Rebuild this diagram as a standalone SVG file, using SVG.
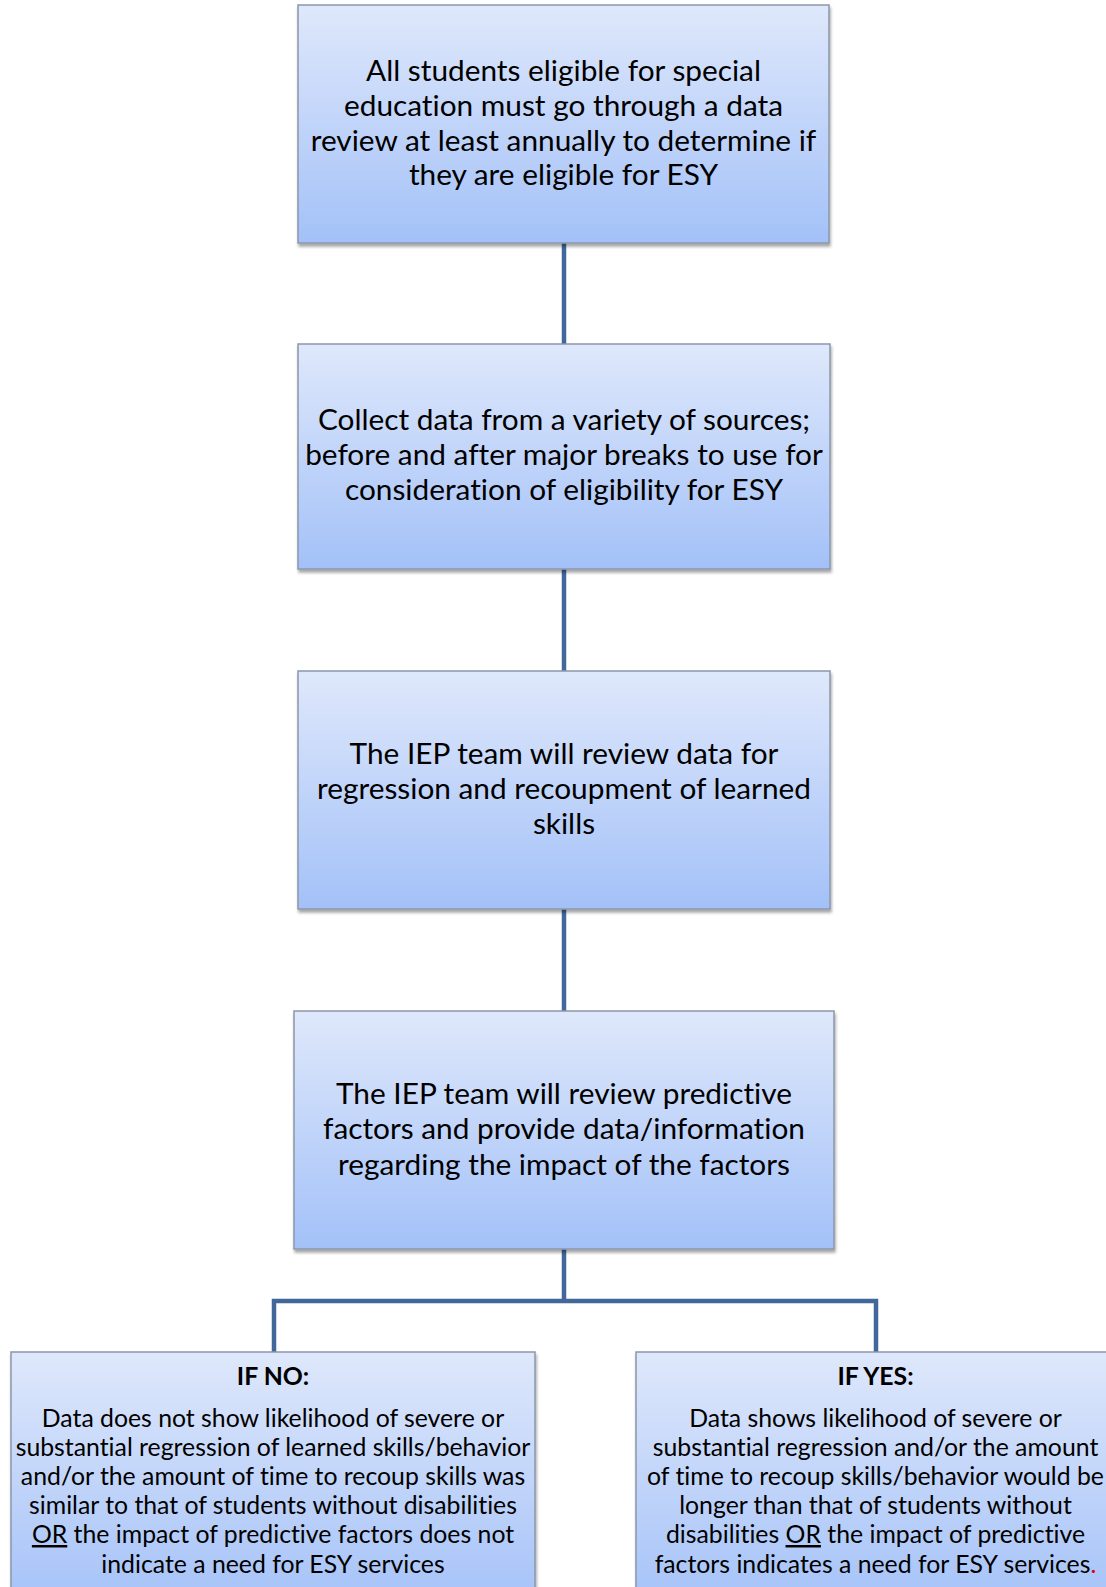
<svg xmlns="http://www.w3.org/2000/svg" width="1106" height="1587" viewBox="0 0 1106 1587">
<defs>
<linearGradient id="g" x1="0" y1="0" x2="0" y2="1">
<stop offset="0" stop-color="#dfe8fb"/>
<stop offset="1" stop-color="#a3c1f8"/>
</linearGradient>
<filter id="sh" x="-5%" y="-5%" width="110%" height="115%">
<feDropShadow dx="1" dy="3" stdDeviation="1.5" flood-color="#000" flood-opacity="0.35"/>
</filter>
</defs>
<style>
.box{fill:url(#g);stroke:#8a97aa;stroke-width:1.5;filter:url(#sh)}
.t{font-family:Lato,"Open Sans",sans-serif;font-size:29.8px;fill:#000;text-anchor:middle;font-variant-ligatures:none}
.s{font-family:Lato,"Open Sans",sans-serif;font-size:24.8px;fill:#000;text-anchor:middle;font-variant-ligatures:none}
.b{font-weight:bold}
.con{fill:none;stroke:#42689b;stroke-width:4.5}
</style>
<g id="connectors">
<line class="con" x1="564" y1="243" x2="564" y2="344"/>
<line class="con" x1="564" y1="569" x2="564" y2="671"/>
<line class="con" x1="564" y1="909" x2="564" y2="1011"/>
<path class="con" d="M564 1249 V1301 M274 1352 V1301 H876 V1352"/>
</g>
<g id="n1">
<rect class="box" x="298" y="5" width="531" height="238"/>
<text class="t" x="563.5" y="81">All students eligible for special</text>
<text class="t" x="563.5" y="116">education must go through a data</text>
<text class="t" x="563.5" y="151">review at least annually to determine if</text>
<text class="t" x="563.5" y="185">they are eligible for ESY</text>
</g>
<g id="n2">
<rect class="box" x="298" y="344" width="532" height="225"/>
<text class="t" x="564" y="430">Collect data from a variety of sources;</text>
<text class="t" x="564" y="465">before and after major breaks to use for</text>
<text class="t" x="564" y="500">consideration of eligibility for ESY</text>
</g>
<g id="n3">
<rect class="box" x="298" y="671" width="532" height="238"/>
<text class="t" x="564" y="764">The IEP team will review data for</text>
<text class="t" x="564" y="799">regression and recoupment of learned</text>
<text class="t" x="564" y="834">skills</text>
</g>
<g id="n4">
<rect class="box" x="294" y="1011" width="540" height="238"/>
<text class="t" x="564" y="1104">The IEP team will review predictive</text>
<text class="t" x="564" y="1139">factors and provide data/information</text>
<text class="t" x="564" y="1175">regarding the impact of the factors</text>
</g>
<g id="n5">
<rect class="box" x="11" y="1352" width="524" height="260"/>
<text class="s b" x="273" y="1385">IF NO:</text>
<text class="s" x="273" y="1427">Data does not show likelihood of severe or</text>
<text class="s" x="273" y="1456">substantial regression of learned skills/behavior</text>
<text class="s" x="273" y="1485">and/or the amount of time to recoup skills was</text>
<text class="s" x="273" y="1514">similar to that of students without disabilities</text>
<text class="s" x="273" y="1543"><tspan text-decoration="underline">OR</tspan> the impact of predictive factors does not</text>
<text class="s" x="273" y="1573">indicate a need for ESY services</text>
</g>
<g id="n6">
<rect class="box" x="636" y="1352" width="480" height="260"/>
<text class="s b" x="875.5" y="1385">IF YES:</text>
<text class="s" x="875.5" y="1427">Data shows likelihood of severe or</text>
<text class="s" x="875.5" y="1456">substantial regression and/or the amount</text>
<text class="s" x="875.5" y="1485">of time to recoup skills/behavior would be</text>
<text class="s" x="875.5" y="1514">longer than that of students without</text>
<text class="s" x="875.5" y="1543">disabilities <tspan text-decoration="underline">OR</tspan> the impact of predictive</text>
<text class="s" x="875.5" y="1573">factors indicates a need for ESY services<tspan fill="#e00000">.</tspan></text>
</g>
</svg>
